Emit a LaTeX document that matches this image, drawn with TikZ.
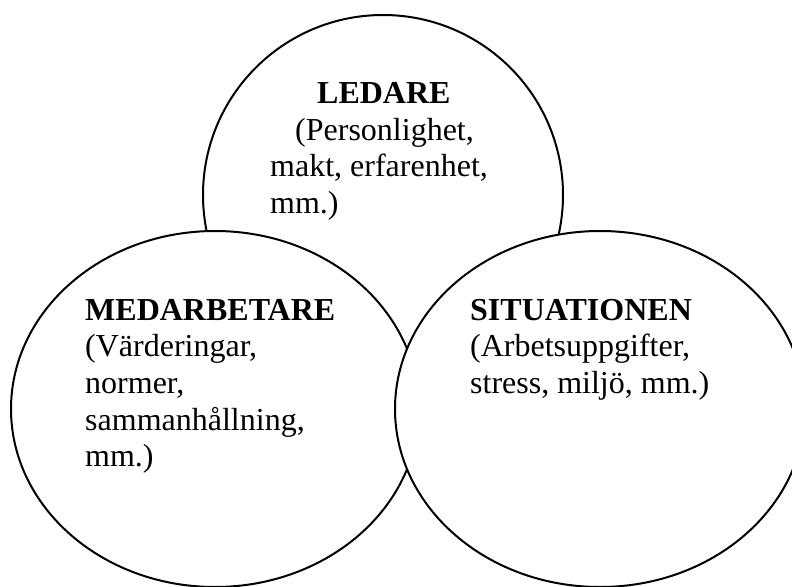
\documentclass[tikz,border=0pt]{standalone}
\usepackage{fontspec}
\setmainfont{Liberation Serif}
\usetikzlibrary{shapes.geometric}
\newcommand\mybodyfont{\fontsize{32}{36.7}\selectfont}
\begin{document}
\begin{tikzpicture}[x=1pt,y=-1pt,
  ring/.style={ellipse, draw=black, line width=2pt, fill=white, inner sep=0pt},
  txt/.style={anchor=base west, inner sep=0pt, font=\mybodyfont},
  head/.style={txt, font=\mybodyfont\bfseries}]
\useasboundingbox (0,0) rectangle (792,586);
\clip (0,0) rectangle (792,586);
\fill[white] (0,0) rectangle (792,586);
% circles (drawing order: top, left, right)
\node[ring, minimum width=360pt, minimum height=360pt] (ledare) at (383,195) {};
\node[ring, minimum width=408pt, minimum height=356pt] (medarb) at (215,409) {};
\node[ring, minimum width=410pt, minimum height=356pt] (situat) at (600,409) {};
% top texts
\node[head] (t1) at (317,103.3) {LEDARE};
\node[txt]  (t2) at (295,140) {(Personlighet,};
\node[txt]  (t3) at (270,176.7) {makt, erfarenhet,};
\node[txt]  (t4) at (270,213.4) {mm.)};
% left texts
\node[head] (l1) at (85,320) {MEDARBETARE};
\node[txt]  (l2) at (85,356.7) {(Värderingar,};
\node[txt]  (l3) at (85,393.4) {normer,};
\node[txt]  (l4) at (85,430.1) {sammanhållning,};
\node[txt]  (l5) at (85,466.8) {mm.)};
% right texts
\node[head] (r1) at (470,320) {SITUATIONEN};
\node[txt]  (r2) at (470,356.7) {(Arbetsuppgifter,};
\node[txt]  (r3) at (470,393.4) {stress, miljö, mm.)};
\end{tikzpicture}
\end{document}
